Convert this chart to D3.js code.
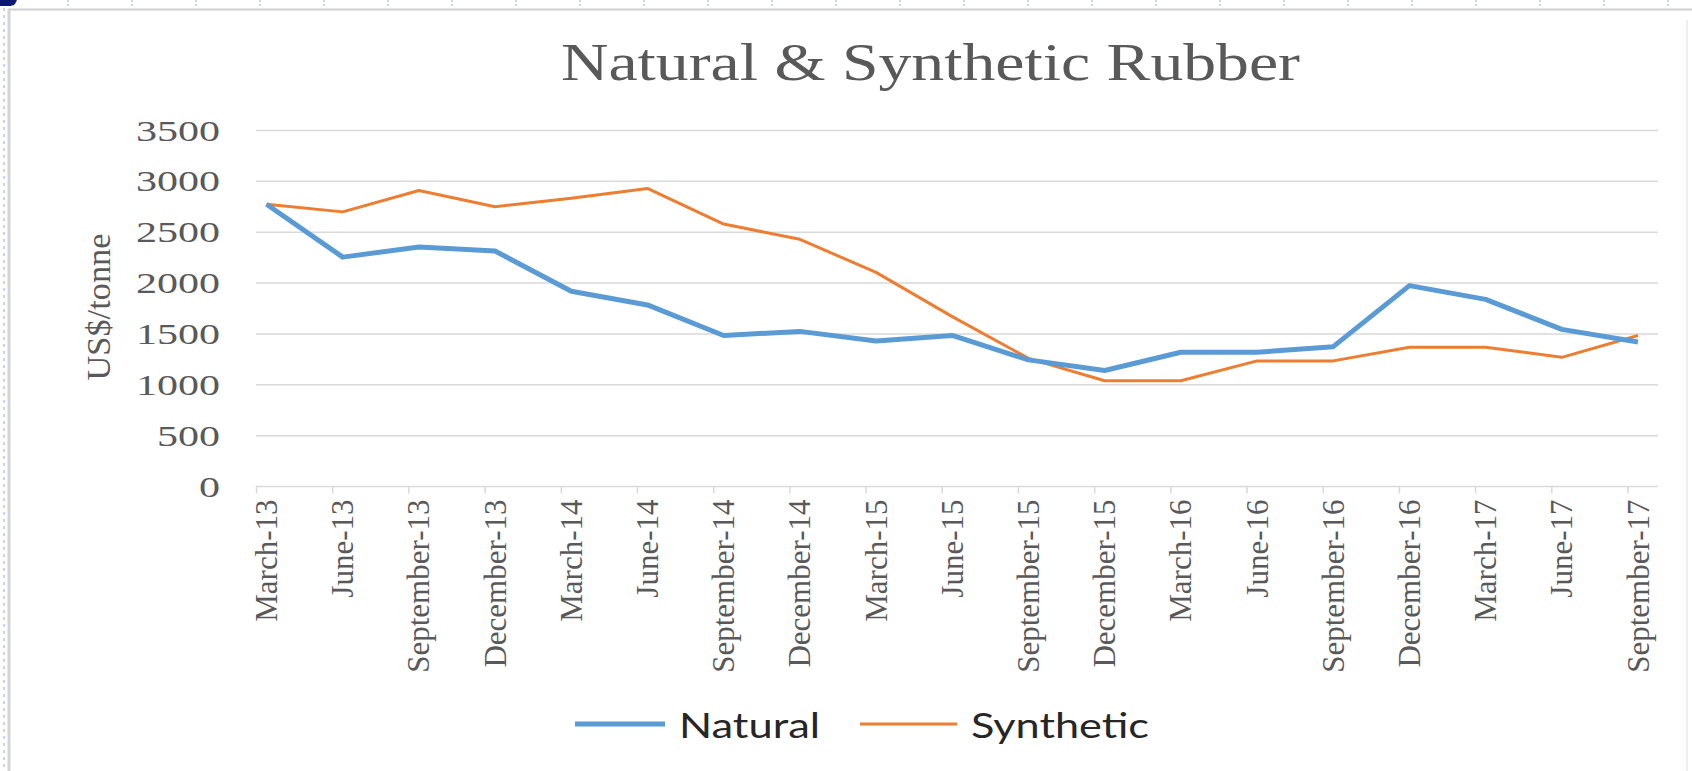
<!DOCTYPE html>
<html>
<head>
<meta charset="utf-8">
<script src="https://cdn.jsdelivr.net/npm/d3@7"></script>
<style>
  html, body { margin: 0; padding: 0; background: #ffffff; }
  svg { display: block; }
</style>
</head>
<body>
<svg id="chart" width="1692" height="771"></svg>
<script>
// Quarterly rubber prices, US$ per tonne
const quarters = [
  "March-13", "June-13", "September-13", "December-13",
  "March-14", "June-14", "September-14", "December-14",
  "March-15", "June-15", "September-15", "December-15",
  "March-16", "June-16", "September-16", "December-16",
  "March-17", "June-17", "September-17"
];
const naturalPrices = [
  2775, 2255, 2355, 2315, 1920, 1785, 1485, 1525, 1430,
  1485, 1245, 1140, 1320, 1320, 1375, 1975, 1840, 1545, 1420
];
const syntheticPrices = [
  2775, 2700, 2910, 2750, 2835, 2930, 2580, 2430, 2105,
  1670, 1260, 1040, 1040, 1235, 1235, 1370, 1370, 1270, 1485
];
const yTicks = [0, 500, 1000, 1500, 2000, 2500, 3000, 3500];
const seriesNames = ["Natural", "Synthetic"];

const svg = d3.select("#chart");
const textGrey = "#595959";
const gridGrey = "#d9d9d9";
const blue = "#5B9BD5";
const orange = "#ED7D31";

// Page frame
svg.append("path")
  .attr("d", "M0,0 L17,0 L15,4 Q13,6 8,6 L0,6 Z")
  .attr("fill", "#0b1a6e");
svg.append("line").attr("x1", 8).attr("x2", 1692).attr("y1", 9.5).attr("y2", 9.5)
  .attr("stroke", "#cfcfcf").attr("stroke-width", 2);
svg.append("line").attr("x1", 9).attr("x2", 9).attr("y1", 9).attr("y2", 771)
  .attr("stroke", "#d4d4d4").attr("stroke-width", 3);
svg.append("line").attr("x1", 4).attr("x2", 4).attr("y1", 8).attr("y2", 771)
  .attr("stroke", "#a9b6ee").attr("stroke-width", 1.2).attr("stroke-dasharray", "3,4");
svg.append("g").selectAll("line")
  .data(d3.range(68, 1692, 64))
  .join("line")
  .attr("x1", d => d).attr("x2", d => d).attr("y1", 0).attr("y2", 8)
  .attr("stroke", "#a9b6ee").attr("stroke-width", 1.2).attr("stroke-dasharray", "2,2");
svg.append("line").attr("x1", 1687).attr("x2", 1687).attr("y1", 20).attr("y2", 771)
  .attr("stroke", "#f0f0f0").attr("stroke-width", 2);

// Scales
const x = d3.scalePoint().domain(quarters).range([266.5, 1638]);
const y = d3.scaleLinear().domain([0, 3500]).range([486.5, 130.5]);
const gridLeft = 256, gridRight = 1658;

// Horizontal gridlines
svg.append("g").selectAll("line")
  .data(yTicks.filter(d => d > 0))
  .join("line")
  .attr("x1", gridLeft).attr("x2", gridRight)
  .attr("y1", d => y(d)).attr("y2", d => y(d))
  .attr("stroke", gridGrey).attr("stroke-width", 1.5);

// Y tick labels
svg.append("g").selectAll("text")
  .data(yTicks)
  .join("text")
  .attr("x", 220).attr("y", d => y(d))
  .attr("text-anchor", "end")
  .attr("dominant-baseline", "central")
  .attr("font-family", "'Liberation Serif', 'DejaVu Serif', serif")
  .attr("font-size", 29)
  .attr("fill", textGrey)
  .attr("textLength", d => String(d).length * 21)
  .attr("lengthAdjust", "spacingAndGlyphs")
  .text(d => d);

// X axis line and ticks
const xAxis = svg.append("g");
xAxis.append("line")
  .attr("x1", gridLeft).attr("x2", gridRight)
  .attr("y1", y(0)).attr("y2", y(0))
  .attr("stroke", gridGrey).attr("stroke-width", 1.5);
xAxis.selectAll("line.tick")
  .data(quarters)
  .join("line")
  .attr("class", "tick")
  .attr("x1", d => x(d) - 10).attr("x2", d => x(d) - 10)
  .attr("y1", y(0)).attr("y2", y(0) + 7)
  .attr("stroke", gridGrey).attr("stroke-width", 1.5);

// X tick labels, rotated
xAxis.selectAll("text")
  .data(quarters)
  .join("text")
  .attr("transform", d => `translate(${x(d)},${y(0) + 13}) rotate(-90)`)
  .attr("text-anchor", "end")
  .attr("dominant-baseline", "central")
  .attr("font-family", "'Liberation Serif', 'DejaVu Serif', serif")
  .attr("font-size", 31)
  .attr("fill", textGrey)
  .text(d => d);

// Y axis title
svg.append("text")
  .attr("transform", "translate(98,307) rotate(-90)")
  .attr("text-anchor", "middle")
  .attr("dominant-baseline", "central")
  .attr("font-family", "'Liberation Serif', 'DejaVu Serif', serif")
  .attr("font-size", 34)
  .attr("fill", textGrey)
  .attr("textLength", 147)
  .attr("lengthAdjust", "spacingAndGlyphs")
  .text("US$/tonne");

// Chart title
svg.append("text")
  .attr("x", 930.5).attr("y", 80)
  .attr("text-anchor", "middle")
  .attr("font-family", "'Liberation Serif', 'DejaVu Serif', serif")
  .attr("font-size", 52)
  .attr("fill", textGrey)
  .attr("textLength", 739)
  .attr("lengthAdjust", "spacingAndGlyphs")
  .text("Natural & Synthetic Rubber");

// Series lines
const line = d3.line()
  .x((d, i) => x(quarters[i]))
  .y(d => y(d));

svg.append("path")
  .datum(syntheticPrices)
  .attr("d", line)
  .attr("fill", "none")
  .attr("stroke", orange)
  .attr("stroke-width", 3)
  .attr("stroke-linejoin", "round");

svg.append("path")
  .datum(naturalPrices)
  .attr("d", line)
  .attr("fill", "none")
  .attr("stroke", blue)
  .attr("stroke-width", 5)
  .attr("stroke-linejoin", "round");

// Legend
const legendItems = [
  { name: seriesNames[0], color: blue, width: 5, x1: 575, x2: 665, tx: 679, tl: 141 },
  { name: seriesNames[1], color: orange, width: 3, x1: 860, x2: 957, tx: 971, tl: 178 }
];
const legend = svg.append("g");
legendItems.forEach(it => {
  legend.append("line")
    .attr("x1", it.x1).attr("x2", it.x2).attr("y1", 724).attr("y2", 724)
    .attr("stroke", it.color).attr("stroke-width", it.width);
  legend.append("text")
    .attr("x", it.tx).attr("y", 724)
    .attr("dominant-baseline", "central")
    .attr("font-family", "Lato, 'Noto Sans', sans-serif")
    .attr("font-size", 34)
    .attr("fill", "#262626")
    .attr("textLength", it.tl)
    .attr("lengthAdjust", "spacingAndGlyphs")
    .text(it.name);
});
</script>
</body>
</html>
